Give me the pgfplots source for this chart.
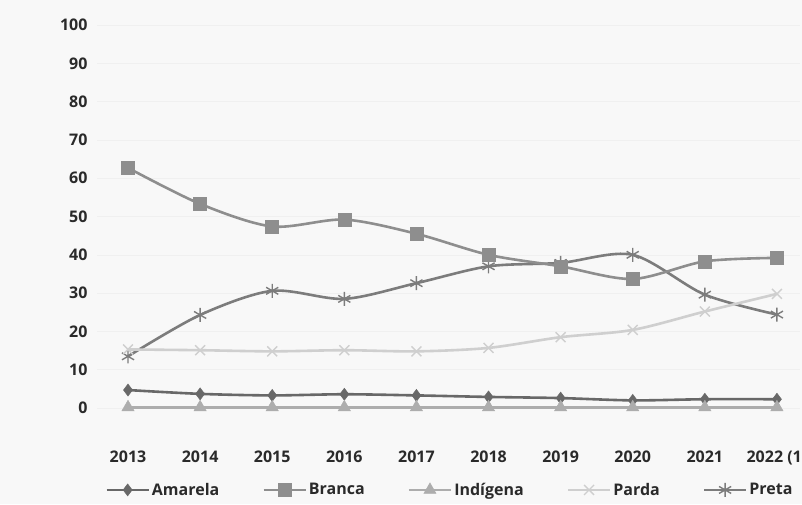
\documentclass[border=0pt]{standalone}
\usepackage{pgfplots}
\pgfplotsset{compat=1.18}
\usepackage{fontspec}
\setmainfont{Open Sans}
\definecolor{bg}{HTML}{F8F8F8}
\definecolor{txt}{HTML}{2A2A2A}
\definecolor{camarela}{HTML}{686868}
\definecolor{cbranca}{HTML}{8E8E8E}
\definecolor{cindigena}{HTML}{ADADAD}
\definecolor{cparda}{HTML}{CFCFCF}
\definecolor{cpreta}{HTML}{7C7C7C}
\begin{document}
\begin{tikzpicture}
\fill[bg] (0,0) rectangle (802pt,504pt);
\begin{axis}[
  at={(97pt,88.3pt)}, anchor=south west,
  scale only axis, width=703pt, height=390.7pt,
  xmin=-0.43, xmax=9.32, ymin=-2, ymax=100,
  axis line style={draw=none}, major tick length=0pt,
  xtick={0,...,9},
  xticklabels={2013,2014,2015,2016,2017,2018,2019,2020,2021,2022 (1)},
  ytick={0,10,...,100},
  ymajorgrids, major grid style={color=black!6, line width=0.6pt},
  /pgf/number format/assume math mode=true,
  tick label style={font=\fontsize{16}{18}\selectfont\bfseries, text=txt},
  xticklabel style={yshift=-32pt},
  yticklabel style={xshift=-6pt},
  every axis plot/.append style={line width=2.6pt, smooth, tension=0.5},
  legend style={at={(0.502,-0.19)}, anchor=center, draw=none, fill=none,
    legend columns=5, font=\fontsize{16}{18}\selectfont\bfseries, text=txt,
    /tikz/every even column/.append style={column sep=41pt}},
  legend cell align=left,
  legend image code/.code={\draw[mark repeat=2,mark phase=2] plot coordinates {(0pt,0pt) (21pt,0pt) (42pt,0pt)};},
]
\addplot[color=cpreta, mark=asterisk, mark size=7pt, mark options={line width=1.4pt, solid}, forget plot] coordinates {
(0,13.5)(1,24.3)(2,30.6)(3,28.5)(4,32.6)(5,37.0)(6,37.9)(7,40.0)(8,29.6)(9,24.4)};
\addplot[color=camarela, mark=diamond*, mark size=6pt, mark options={line width=0.5pt, solid}] coordinates {
(0,4.7)(1,3.7)(2,3.3)(3,3.6)(4,3.3)(5,2.9)(6,2.6)(7,2.0)(8,2.3)(9,2.3)};
\addlegendentry{Amarela}
\addplot[color=cbranca, mark=square*, mark size=6.5pt, mark options={line width=0.5pt, solid}] coordinates {
(0,62.7)(1,53.3)(2,47.4)(3,49.2)(4,45.5)(5,40.0)(6,37.0)(7,33.7)(8,38.3)(9,39.2)};
\addlegendentry{Branca}
\addplot[color=cindigena, mark=triangle*, mark size=7pt, mark options={line width=0.5pt, solid}] coordinates {
(0,0.2)(1,0.2)(2,0.2)(3,0.2)(4,0.2)(5,0.2)(6,0.2)(7,0.2)(8,0.2)(9,0.2)};
\addlegendentry{Indígena}
\addplot[color=cparda, mark=x, mark size=7pt, mark options={line width=1.4pt, solid}] coordinates {
(0,15.3)(1,15.1)(2,14.8)(3,15.1)(4,14.8)(5,15.7)(6,18.5)(7,20.4)(8,25.2)(9,29.8)};
\addlegendentry{Parda}
\addlegendimage{color=cpreta, line width=2.6pt, smooth, mark=asterisk, mark size=7pt, mark options={line width=1.4pt, solid}}
\addlegendentry{Preta}
\node[font=\fontsize{16}{18}\selectfont\bfseries, text=txt] at (axis description cs:-0.088,0.488) {(\%)};
\end{axis}
\pgfresetboundingbox
\path (0,0) rectangle (802pt,504pt);
\end{tikzpicture}
\end{document}
